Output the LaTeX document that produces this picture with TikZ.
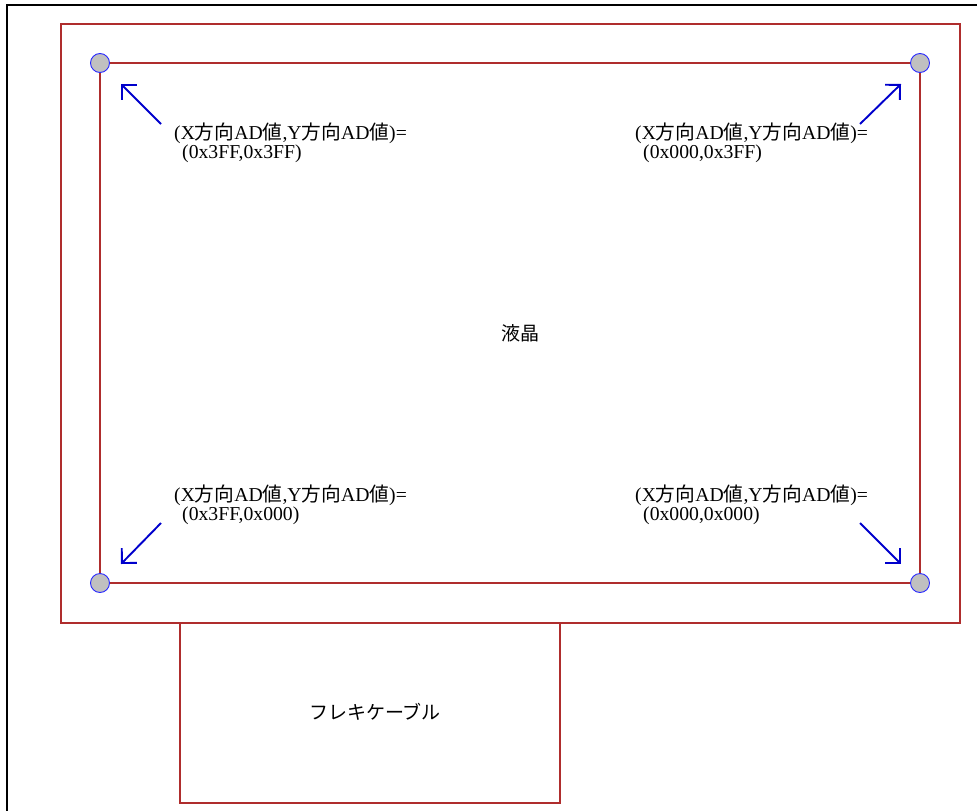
\documentclass[tikz,border=0pt]{standalone}
\usepackage{fontspec}
\setmainfont{Liberation Serif}
\newfontfamily\cjk{Noto Sans CJK JP}
\usetikzlibrary{arrows.meta}
\newcommand\J[1]{{\cjk #1}}
\definecolor{lcdred}{RGB}{175,45,45}
\definecolor{arrblue}{RGB}{0,0,204}
\definecolor{dotblue}{RGB}{40,40,255}
\definecolor{dotgray}{RGB}{192,192,192}
\begin{document}
\begin{tikzpicture}[x=1pt,y=-1pt,
  redbox/.style={draw=lcdred,line width=1.2pt},
  dot/.style={circle,draw=dotblue,fill=dotgray,line width=0.9pt,minimum size=19pt,inner sep=0pt},
  arr/.style={draw=arrblue,line width=1.9pt,-{Straight Barb[angle=90:15pt,line width=1.9pt]}},
  lbl/.style={anchor=base west,inner sep=0pt,font=\fontsize{19.7}{16}\selectfont},
  ctr/.style={inner sep=0pt,font=\fontsize{19}{22}\selectfont\cjk}]
\useasboundingbox (0,0) rectangle (977,811);
% outer frame (left and top edges)
\draw[line width=2pt,black] (7,811) -- (7,5) -- (977,5);
% LCD outer
\draw[redbox] (61,24) rectangle (960,623);
% flexible cable
\draw[redbox] (180,623) rectangle (560,803);
\node[ctr] (flex) at (375,712) {フレキケーブル};
% inner rectangle corners
\coordinate (ctl) at (100,63);
\coordinate (ctr0) at (920,63);
\coordinate (cbl) at (100,583);
\coordinate (cbr) at (920,583);
\draw[redbox] (ctl) -- (ctr0) -- (cbr) -- (cbl) -- cycle;
\node[dot] (dtl) at (ctl) {};
\node[dot] (dtr) at (ctr0) {};
\node[dot] (dbl) at (cbl) {};
\node[dot] (dbr) at (cbr) {};
\node[ctr] (lcd) at (520,333) {液晶};
% arrows
\coordinate (atl0) at (161,124); \coordinate (atl1) at (121,84);
\coordinate (atr0) at (860,124); \coordinate (atr1) at (901,84);
\coordinate (abl0) at (161,523); \coordinate (abl1) at (121,564);
\coordinate (abr0) at (860,523); \coordinate (abr1) at (901,564);
\draw[arr] (atl0) -- (atl1);
\draw[arr] (atr0) -- (atr1);
\draw[arr] (abl0) -- (abl1);
\draw[arr] (abr0) -- (abr1);
% labels
\node[lbl] (tl1) at (174,139) {(X\J{方向}AD\J{値},Y\J{方向}AD\J{値})=};
\node[lbl] (tl2) at (182,158) {(0x3FF,0x3FF)};
\node[lbl] (tr1) at (635,139) {(X\J{方向}AD\J{値},Y\J{方向}AD\J{値})=};
\node[lbl] (tr2) at (643,158) {(0x000,0x3FF)};
\node[lbl] (bl1) at (174,501) {(X\J{方向}AD\J{値},Y\J{方向}AD\J{値})=};
\node[lbl] (bl2) at (182,520) {(0x3FF,0x000)};
\node[lbl] (br1) at (635,501) {(X\J{方向}AD\J{値},Y\J{方向}AD\J{値})=};
\node[lbl] (br2) at (643,520) {(0x000,0x000)};
\end{tikzpicture}
\end{document}
